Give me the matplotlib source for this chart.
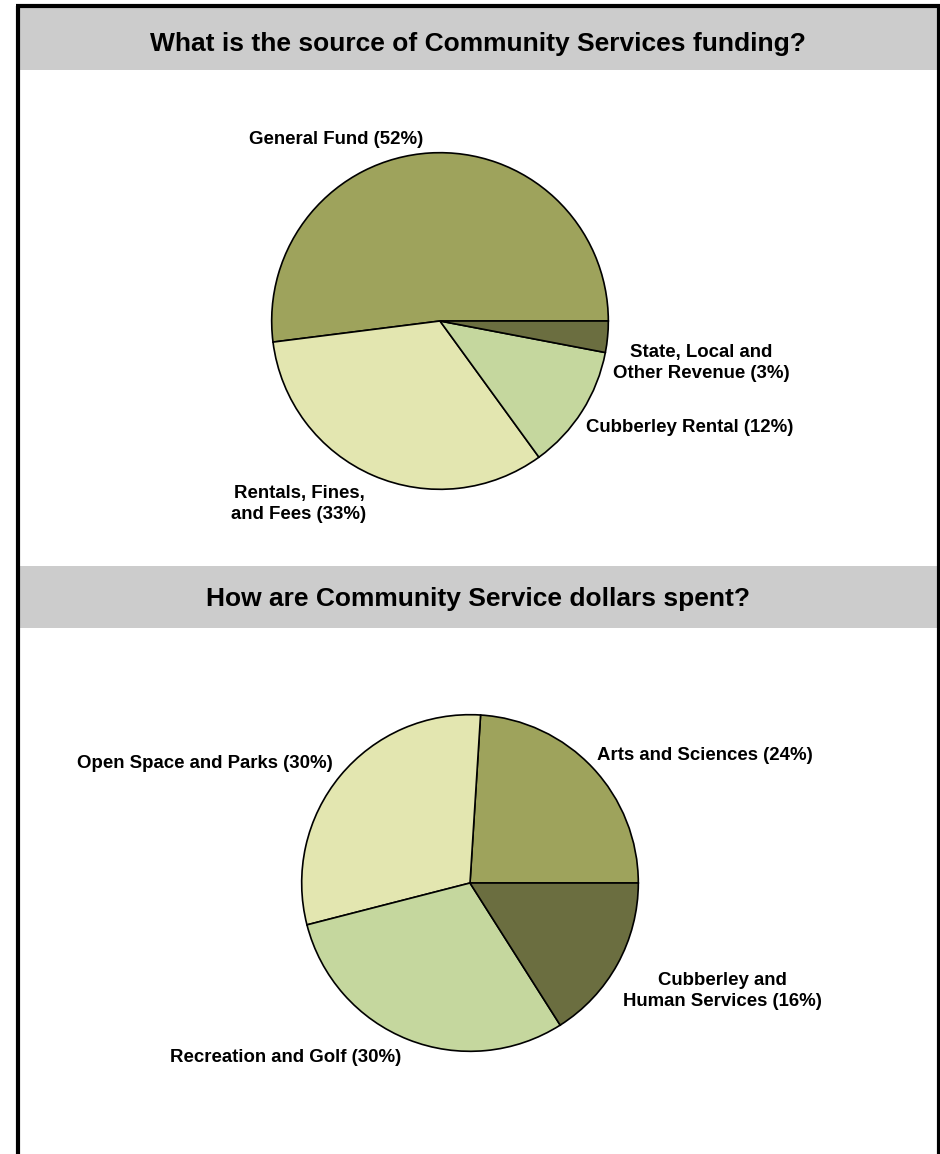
import matplotlib.pyplot as plt
from matplotlib.patches import Rectangle

plt.rcParams['font.family'] = ['Liberation Sans', 'DejaVu Sans']

W, H = 940, 1154

# funding sources
source_labels = ['General Fund (52%)', 'Rentals, Fines,\nand Fees (33%)',
                 'Cubberley Rental (12%)', 'State, Local and\nOther Revenue (3%)']
source_values = [52, 33, 12, 3]
source_colors = ['#9ea35c', '#e3e6b0', '#c5d79e', '#6b6e40']

# spending
spend_labels = ['Arts and Sciences (24%)', 'Open Space and Parks (30%)',
                'Recreation and Golf (30%)', 'Cubberley and\nHuman Services (16%)']
spend_values = [24, 30, 30, 16]
spend_colors = ['#9ea35c', '#e3e6b0', '#c5d79e', '#6b6e40']

titles = ['What is the source of Community Services funding?',
          'How are Community Service dollars spent?']

fig = plt.figure(figsize=(W / 100, H / 100), dpi=100)

# background layer in pixel units for frame and title bars
bg = fig.add_axes([0, 0, 1, 1])
bg.set_xlim(0, W)
bg.set_ylim(H, 0)
bg.axis('off')
for top, bottom in [(7, 70), (566, 628)]:
    bg.add_patch(Rectangle((19, top), 918, bottom - top, facecolor='#cccccc', edgecolor='none'))
bg.plot([17.5, 17.5], [5.5, H], color='black', lw=3, solid_capstyle='butt')
bg.plot([938.5, 938.5], [5.5, H], color='black', lw=3, solid_capstyle='butt')
bg.plot([16, 940], [5.5, 5.5], color='black', lw=3, solid_capstyle='butt')

bg.text(478, 44, titles[0], ha='center', va='center', fontsize=19, fontweight='bold')
bg.text(478, 599, titles[1], ha='center', va='center', fontsize=19, fontweight='bold')


def draw_pie(cx, cy, r, values, colors):
    ax = fig.add_axes([(cx - r) / W, 1 - (cy + r) / H, 2 * r / W, 2 * r / H])
    ax.pie(values, colors=colors, startangle=0, counterclock=True, radius=1,
           wedgeprops=dict(edgecolor='black', linewidth=1.2))
    ax.set_xlim(-1.01, 1.01)
    ax.set_ylim(-1.01, 1.01)
    ax.axis('off')


draw_pie(440, 321, 170, source_values, source_colors)
draw_pie(470, 883, 170, spend_values, spend_colors)

# label positions for each slice (pixels)
source_pos = [(336, 139), (299, 504), (690, 428), (701, 363)]
spend_pos = [(705, 755), (205, 763), (286, 1057), (722, 991)]
for lab, (x, y) in zip(source_labels, source_pos):
    bg.text(x, y, lab, ha='center', va='center', fontsize=13.4, fontweight='bold',
            multialignment='center', linespacing=1.35)
for lab, (x, y) in zip(spend_labels, spend_pos):
    bg.text(x, y, lab, ha='center', va='center', fontsize=13.4, fontweight='bold',
            multialignment='center', linespacing=1.35)

fig.savefig('out.png', dpi=100)
